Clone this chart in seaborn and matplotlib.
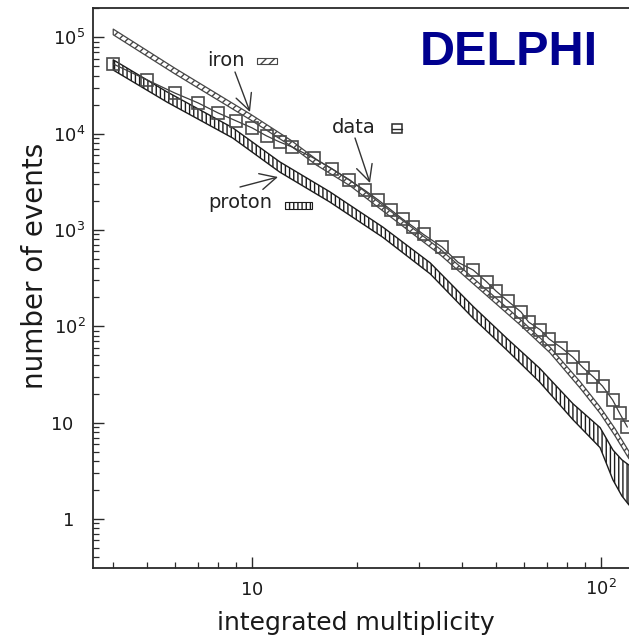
import matplotlib
matplotlib.use("Agg")
import matplotlib.pyplot as plt
from matplotlib.patches import Rectangle
from matplotlib.lines import Line2D
from matplotlib.ticker import LogLocator, NullFormatter
from matplotlib.transforms import ScaledTranslation
import numpy as np
import pandas as pd
import seaborn as sns

# measured integral multiplicity spectrum (open squares)
data_mult = [4, 5, 6, 7, 8, 9, 10, 11, 12, 13, 15, 17, 19, 21, 23, 25, 27, 29, 31,
             35, 39, 43, 47, 50, 54, 59, 62, 67, 71, 77, 83, 89, 95, 101, 108, 113, 119]
data_events = [53000, 36200, 26500, 20900, 16400, 13600, 11500, 9500, 8200, 7300,
               5600, 4300, 3300, 2600, 2050, 1620, 1300, 1080, 900, 668, 460, 385,
               290, 233, 184, 141, 111, 92, 74, 60, 48, 37, 30, 24, 17.2, 12.6, 9.0]

# simulation, iron primaries (diagonal hatch band)
iron_mult = [4.0, 6.0, 9.9, 12.9, 15.3, 19.1, 26.5, 34.6, 45.0, 58.6, 71.4, 87.2,
             99.4, 109.6, 120.3]
iron_events = [114000, 44900, 14900, 8020, 5050, 3080, 1240, 593, 257, 111, 56.9,
               24.6, 13.5, 8.0, 4.6]
iron_spread = [1.07, 1.07, 1.07, 1.07, 1.07, 1.07, 1.07, 1.07, 1.07, 1.07, 1.07,
               1.08, 1.08, 1.09, 1.09]

# simulation, proton primaries (vertical hatch band)
proton_mult = [4.0, 5.7, 8.8, 12.0, 16.7, 23.7, 32.4, 43.0, 53.8, 66.8, 83.1, 99.4,
               108.2, 114.8, 120.3]
proton_events = [51800, 24100, 10200, 4520, 2210, 950, 400, 140, 65, 31, 13, 7.0,
                 3.64, 2.67, 2.25]
proton_spread = [1.13, 1.13, 1.13, 1.13, 1.13, 1.13, 1.14, 1.15, 1.15, 1.18, 1.21,
                 1.27, 1.43, 1.54, 1.61]

x_ticks = [10, 100]
x_ticklabels = [r"$10$", r"$10^2$"]
y_ticks = [1, 10, 100, 1e3, 1e4, 1e5]
y_ticklabels = [r"$1$", r"$10$", r"$10^2$", r"$10^3$", r"$10^4$", r"$10^5$"]

sns.set_theme(style="white")
plt.rcParams["font.family"] = ["DejaVu Sans"]
plt.rcParams["mathtext.fontset"] = "dejavusans"
plt.rcParams["hatch.linewidth"] = 1.0

W, H = 629, 643
fig = plt.figure(figsize=(W / 100, H / 100), dpi=100)
fig.patch.set_facecolor("white")
ax = fig.add_axes([93 / W, 75 / H, 536 / W, 560 / H])
ax.set_facecolor("white")

ink = "#222222"

# proton band
p_mid = np.array(proton_events)
p_sp = np.array(proton_spread)
ax.fill_between(proton_mult, p_mid / p_sp, p_mid * p_sp, facecolor="white",
                edgecolor="#1c1c1c", hatch="||||", linewidth=1.0, zorder=2)

# iron band
i_mid = np.array(iron_events)
i_sp = np.array(iron_spread)
ax.fill_between(iron_mult, i_mid / i_sp, i_mid * i_sp, facecolor="white",
                edgecolor="#474747", hatch="////", linewidth=0.9, zorder=3)

# data points joined by a thin line
df = pd.DataFrame({"mult": data_mult, "events": data_events})
sns.lineplot(data=df, x="mult", y="events", ax=ax, estimator=None, sort=True,
             color="#3c3c3c", linewidth=0.9, marker="s", markersize=9,
             markerfacecolor="none", markeredgecolor="#4a4a4a",
             markeredgewidth=1.2, zorder=4)

ax.set_xscale("log")
ax.set_yscale("log")
ax.set_xlim(3.5, 120.3)
ax.set_ylim(0.31, 2.02e5)

for side in ["left", "bottom", "top"]:
    ax.spines[side].set_color("#2a2a2a")
    ax.spines[side].set_linewidth(1.3)
ax.spines["right"].set_visible(False)

ax.set_xticks(x_ticks, labels=x_ticklabels)
ax.set_yticks(y_ticks, labels=y_ticklabels)
ax.xaxis.set_minor_locator(LogLocator(base=10, subs=np.arange(2, 10), numticks=50))
ax.yaxis.set_minor_locator(LogLocator(base=10, subs=np.arange(2, 10), numticks=50))
ax.xaxis.set_minor_formatter(NullFormatter())
ax.yaxis.set_minor_formatter(NullFormatter())

ax.tick_params(which="major", direction="in", length=8, width=1.0, color="#2a2a2a",
               labelsize=13, labelcolor="#1a1a1a", bottom=True, left=True,
               top=False, right=False)
ax.tick_params(which="minor", direction="in", length=4.5, width=0.9, color="#2a2a2a",
               bottom=True, left=True, top=False, right=False)
ax.tick_params(axis="y", pad=5.5)
ax.tick_params(axis="x", pad=19.5)
for lab in ax.get_xticklabels():
    lab.set_verticalalignment("baseline")
# labels without an exponent line up with the mantissa of the others
for lab, txt in zip(ax.get_yticklabels(), y_ticklabels):
    if "^" not in txt:
        lab.set_transform(lab.get_transform()
                          + ScaledTranslation(-0.12, 0, fig.dpi_scale_trans))

ax.set_xlabel("integrated multiplicity", fontsize=18, color="#1a1a1a")
ax.xaxis.set_label_coords((356 - 93) / 536, (568 - 611) / 560)
ax.set_ylabel("number of events", fontsize=20, color="#1a1a1a")
ax.yaxis.set_label_coords((49 - 93) / 536, 1 - (266 - 8) / 560)


def fx(px):
    return px / W


def fy(py):
    return 1 - py / H


fig.text(fx(509), fy(65), "DELPHI", fontsize=35, fontweight="bold",
         family="Liberation Sans", color="#00008f", ha="center", va="baseline")

# curve labels with their key symbols
fig.text(fx(207), fy(66), "iron", fontsize=14, color=ink, ha="left", va="baseline")
fig.text(fx(332), fy(133), "data", fontsize=14, color=ink, ha="left", va="baseline")
fig.text(fx(208), fy(208), "proton", fontsize=14, color=ink, ha="left", va="baseline")

fig.add_artist(Rectangle((fx(257), fy(64)), 20 / W, 6 / H, transform=fig.transFigure,
                         facecolor="white", edgecolor="#474747", hatch="////",
                         linewidth=0.8))
fig.add_artist(Rectangle((fx(285), fy(209)), 27 / W, 7 / H, transform=fig.transFigure,
                         facecolor="white", edgecolor="#1c1c1c", hatch="||||",
                         linewidth=0.8))
fig.add_artist(Rectangle((fx(392), fy(133)), 10 / W, 9 / H, transform=fig.transFigure,
                         facecolor="none", edgecolor="#2a2a2a", linewidth=1.1))
fig.add_artist(Line2D([fx(392), fx(402)], [fy(128.5), fy(128.5)],
                      transform=fig.transFigure, color="#2a2a2a", linewidth=1.0))

arrow = dict(arrowstyle="->,head_length=0.9,head_width=0.45", lw=1.0,
             color="#333333", shrinkA=0, shrinkB=0, mutation_scale=13)
for tail, tip in [((235, 72), (250, 112)),
                  ((355, 138), (370, 183)),
                  ((240, 187), (278, 177))]:
    ax.annotate("", xy=(fx(tip[0]), fy(tip[1])), xytext=(fx(tail[0]), fy(tail[1])),
                xycoords="figure fraction", textcoords="figure fraction",
                arrowprops=arrow)

fig.savefig("out.png", dpi=100, facecolor="white")
